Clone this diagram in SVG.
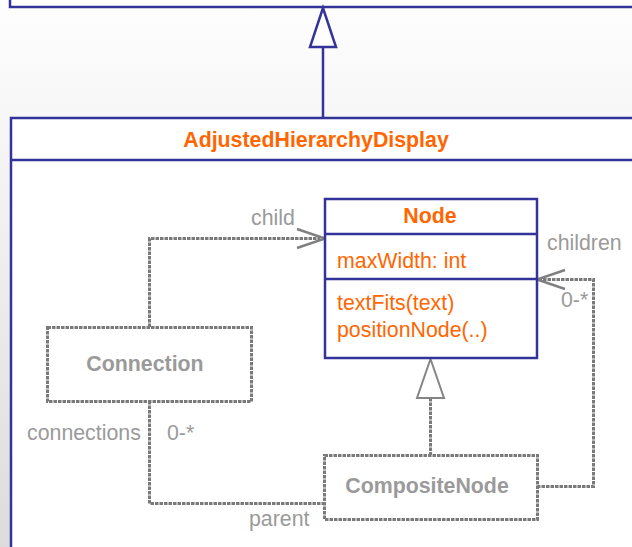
<svg xmlns="http://www.w3.org/2000/svg" width="632" height="547" viewBox="0 0 632 547">
  <defs>
    <linearGradient id="bg" x1="0" y1="0" x2="0" y2="1">
      <stop offset="0" stop-color="#fefefe"/>
      <stop offset="1" stop-color="#dcdcdc"/>
    </linearGradient>
    <style>
      .frame { fill: #ffffff; stroke: #333399; stroke-width: 2.5; }
      .sep { stroke: #333399; stroke-width: 2.5; fill: none; }
      .title { font-family: "Liberation Sans", Arial, sans-serif; font-size: 21.33px; font-weight: bold; fill: #ff6600; text-anchor: middle; }
      .member { font-family: "Liberation Sans", Arial, sans-serif; font-size: 21.33px; fill: #ff6600; }
      .ghost { fill: #ffffff; stroke: #7a7a7a; stroke-width: 3; stroke-dasharray: 3.5 1; }
      .ghost-title { font-family: "Liberation Sans", Arial, sans-serif; font-size: 21.33px; font-weight: bold; fill: #9a9a9a; text-anchor: middle; }
      .link { fill: none; stroke: #7a7a7a; stroke-width: 3; stroke-dasharray: 3.5 1; }
      .head { fill: none; stroke: #808080; stroke-width: 2.5; }
      .tri { fill: #ffffff; stroke: #858585; stroke-width: 2; }
      .tri-solid { fill: #ffffff; stroke: #333399; stroke-width: 2.5; }
      .label { font-family: "Liberation Sans", Arial, sans-serif; font-size: 21.33px; fill: #9a9a9a; }
    </style>
  </defs>

  <rect x="0" y="0" width="632" height="547" fill="url(#bg)"/>

  <!-- base class, only its lower edge is in view -->
  <g id="base-class">
    <rect class="frame" x="10" y="-20" width="640" height="27"/>
  </g>

  <!-- inheritance from the base class -->
  <g id="base-generalization">
    <line class="sep" x1="323" y1="47" x2="323" y2="118"/>
    <polygon class="tri-solid" points="323,8 310,47 336,47"/>
  </g>

  <!-- enclosing class -->
  <g id="adjusted-hierarchy-display">
    <rect class="frame" x="11" y="118" width="640" height="450"/>
    <line class="sep" x1="11" y1="160" x2="640" y2="160"/>
    <text class="title" x="316" y="147">AdjustedHierarchyDisplay</text>
  </g>

  <g id="connectors">
    <!-- Connection -> Node (child) -->
    <polyline class="link" points="149.5,327 149.5,238.5 320,238.5"/>
    <polyline class="head" points="297,229 325,238.5 297,248"/>
    <text class="label" x="251" y="225">child</text>

    <!-- CompositeNode -> Node (children) -->
    <polyline class="link" points="537,486.5 593.5,486.5 593.5,279.5 541,279.5"/>
    <polyline class="head" points="565,270 537,279.5 565,289"/>
    <text class="label" x="547" y="250">children</text>
    <text class="label" x="561" y="307">0-*</text>

    <!-- Connection - CompositeNode (connections / parent) -->
    <polyline class="link" points="149.5,401 149.5,503.5 324,503.5"/>
    <text class="label" x="27" y="440">connections</text>
    <text class="label" x="167" y="440">0-*</text>
    <text class="label" x="249" y="526">parent</text>

    <!-- CompositeNode specializes Node -->
    <line class="link" x1="430.5" y1="398" x2="430.5" y2="455"/>
    <polygon class="tri" points="430.5,359 417,398 444,398"/>
  </g>

  <g id="node">
    <rect class="frame" x="325" y="199" width="212" height="159"/>
    <line class="sep" x1="325" y1="234" x2="537" y2="234"/>
    <line class="sep" x1="325" y1="279" x2="537" y2="279"/>
    <text class="title" x="430" y="223">Node</text>
    <text class="member" x="337" y="268">maxWidth: int</text>
    <text class="member" x="337" y="310">textFits(text)</text>
    <text class="member" x="337" y="337">positionNode(..)</text>
  </g>

  <g id="connection">
    <rect class="ghost" x="47.5" y="327.5" width="204" height="74"/>
    <text class="ghost-title" x="145" y="371">Connection</text>
  </g>

  <g id="composite-node">
    <rect class="ghost" x="324.5" y="455.5" width="213" height="64"/>
    <text class="ghost-title" x="427" y="493">CompositeNode</text>
  </g>
</svg>
